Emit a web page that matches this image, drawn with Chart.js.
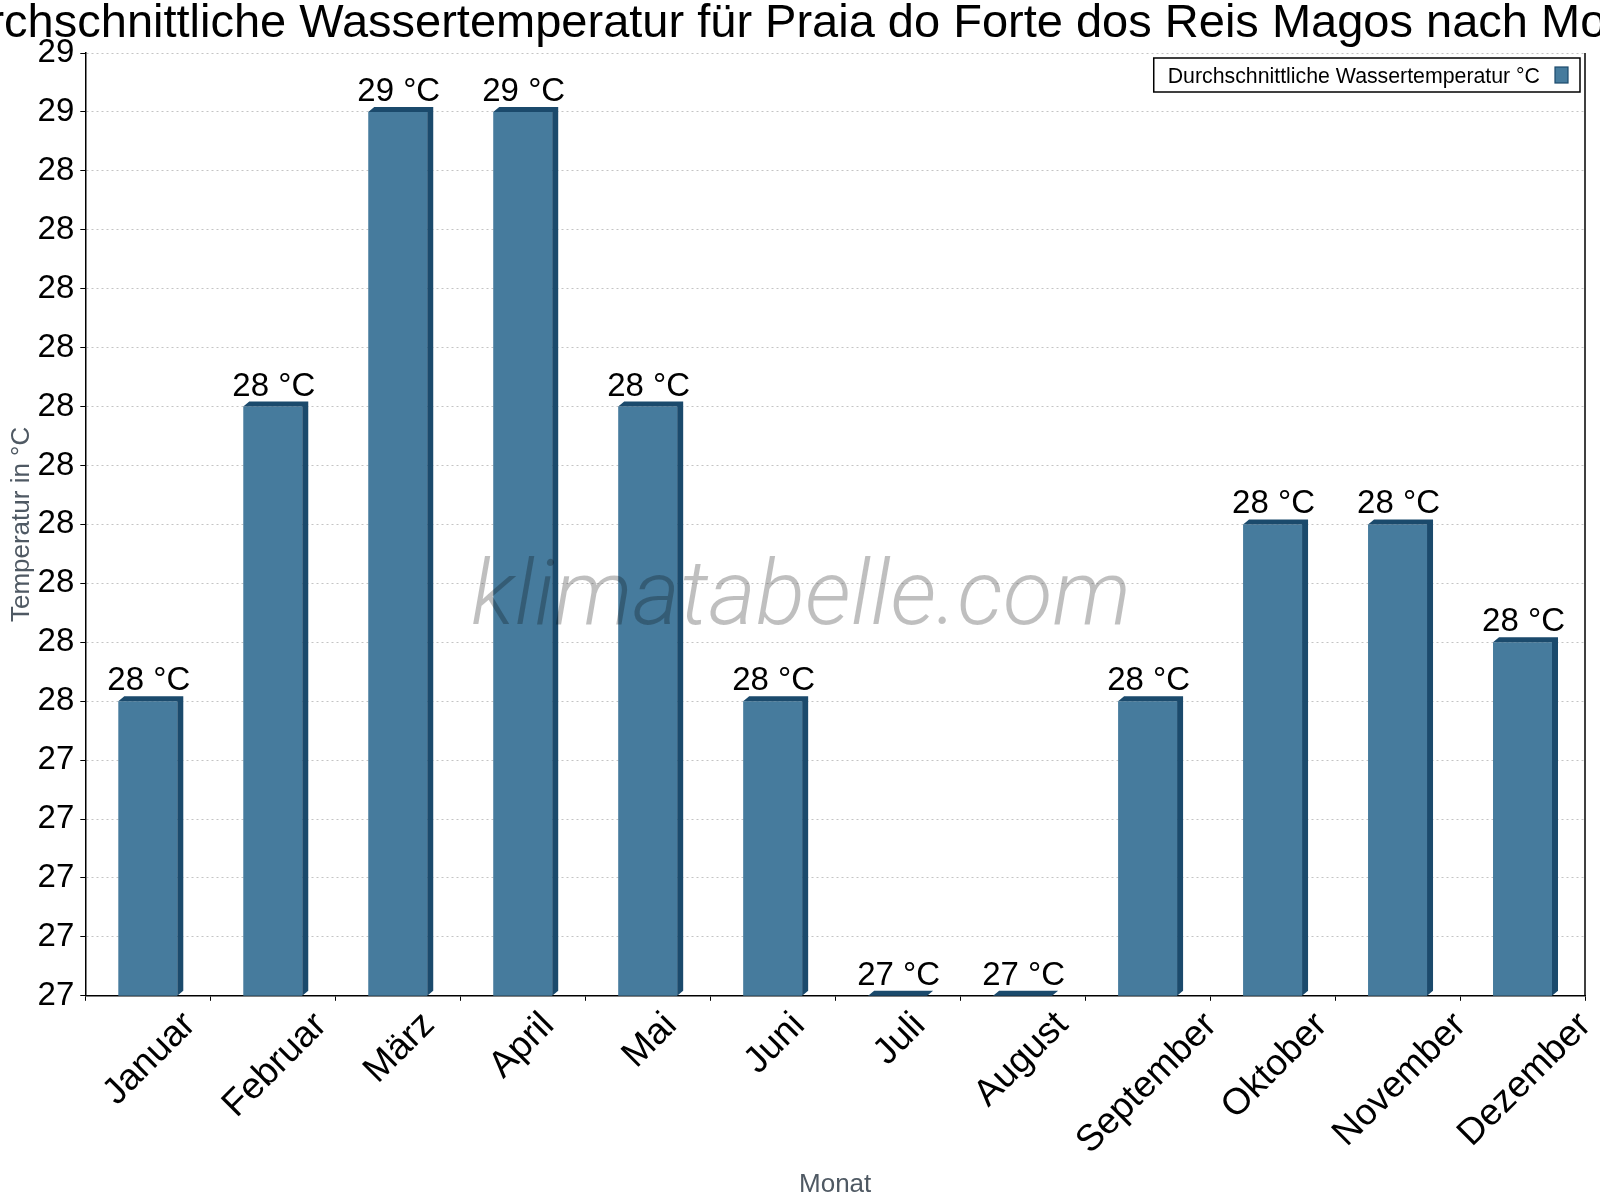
<!DOCTYPE html>
<html>
<head>
<meta charset="utf-8">
<title>Wassertemperatur Praia do Forte dos Reis Magos</title>
<script src="https://cdn.jsdelivr.net/npm/chart.js@4.4.1/dist/chart.umd.min.js"></script>
<style>
  html, body { margin: 0; padding: 0; background: #fff; overflow: hidden; }
</style>
</head>
<body>
<canvas id="c-chart-bar1" width="1600" height="1200"></canvas>
<script>
// chart data
var chartTitle = 'Durchschnittliche Wassertemperatur für Praia do Forte dos Reis Magos nach Monat'
var seriesLabel = 'Durchschnittliche Wassertemperatur °C'
var months = ['Januar', 'Februar', 'März', 'April', 'Mai', 'Juni', 'Juli', 'August', 'September', 'Oktober', 'November', 'Dezember']
var waterTemp = [27.5, 28.0, 28.5, 28.5, 28.0, 27.5, 27.0, 27.0, 27.5, 27.8, 27.8, 27.6]
var yMin = 27
var yMax = 28.6
var yStep = 0.1

var barColor = '#467b9d'
var barDark = '#1b4a6c'
var depthX = 6
var depthY = 5
var fontFamily = '"Liberation Sans", Arial, sans-serif'

Chart.defaults.font.family = fontFamily

// title drawn by hand so the long text is cut at the edges instead of squeezed
var titlePlugin = {
  id: 'titlePlugin',
  afterDraw: function (chart) {
    var ctx = chart.ctx
    ctx.save()
    ctx.font = '47px ' + fontFamily
    ctx.fillStyle = '#000'
    ctx.textAlign = 'center'
    ctx.textBaseline = 'alphabetic'
    ctx.fillText(chartTitle, chart.width / 2, 37)
    ctx.restore()
  }
}

// side and top faces of the bars
var bars3d = {
  id: 'bars3d',
  afterDatasetsDraw: function (chart) {
    var ctx = chart.ctx
    var meta = chart.getDatasetMeta(0)
    var bottom = chart.scales.y.getPixelForValue(yMin)
    ctx.save()
    ctx.fillStyle = barDark
    meta.data.forEach(function (bar) {
      var p = bar.getProps(['x', 'y', 'width'], true)
      var l = p.x - p.width / 2
      var r = p.x + p.width / 2
      ctx.beginPath()
      ctx.moveTo(r, bottom)
      ctx.lineTo(r, p.y)
      ctx.lineTo(l, p.y)
      ctx.lineTo(l + depthX, p.y - depthY)
      ctx.lineTo(r + depthX, p.y - depthY)
      ctx.lineTo(r + depthX, bottom - depthY)
      ctx.closePath()
      ctx.fill()
    })
    ctx.restore()
  }
}

var watermark = {
  id: 'watermark',
  afterDatasetsDraw: function (chart) {
    var ctx = chart.ctx
    ctx.save()
    ctx.font = 'italic 300 91px Roboto, "Open Sans", sans-serif'
    var w = ctx.measureText('klimatabelle.com').width
    ctx.translate(801, 624)
    ctx.scale(660 / w, 1)
    ctx.fillStyle = 'rgba(0, 0, 0, 0.25)'
    ctx.textAlign = 'center'
    ctx.fillText('klimatabelle.com', 0, 0)
    ctx.restore()
  }
}

var valueLabels = {
  id: 'valueLabels',
  afterDatasetsDraw: function (chart) {
    var ctx = chart.ctx
    var meta = chart.getDatasetMeta(0)
    ctx.save()
    ctx.font = '33px ' + fontFamily
    ctx.fillStyle = '#000'
    ctx.textAlign = 'center'
    ctx.textBaseline = 'alphabetic'
    meta.data.forEach(function (bar, i) {
      var p = bar.getProps(['x', 'y'], true)
      ctx.fillText(Math.round(waterTemp[i]) + ' °C', p.x + 1, p.y - depthY - 6)
    })
    ctx.restore()
  }
}

// month labels, rotated 45 degrees and centred under each category
var monthLabels = {
  id: 'monthLabels',
  afterDraw: function (chart) {
    var ctx = chart.ctx
    var xs = chart.scales.x
    var yTop = chart.chartArea.bottom + 12
    ctx.save()
    ctx.font = '37px ' + fontFamily
    ctx.fillStyle = '#000'
    ctx.textAlign = 'left'
    ctx.textBaseline = 'alphabetic'
    months.forEach(function (m, i) {
      var mt = ctx.measureText(m)
      var asc = mt.actualBoundingBoxAscent
      var desc = mt.actualBoundingBoxDescent
      var side = (mt.width + asc + desc) * Math.SQRT1_2
      var cx = xs.getPixelForTick(i)
      var cy = yTop + side / 2
      ctx.save()
      ctx.translate(cx, cy)
      ctx.rotate(-Math.PI / 4)
      ctx.fillText(m, -mt.width / 2, (asc - desc) / 2)
      ctx.restore()
    })
    ctx.restore()
  }
}

var frameAndLegend = {
  id: 'frameAndLegend',
  afterDraw: function (chart) {
    var ctx = chart.ctx
    var ca = chart.chartArea
    ctx.save()
    // right border
    ctx.strokeStyle = '#000'
    ctx.lineWidth = 1.5
    ctx.beginPath()
    ctx.moveTo(ca.right, ca.top)
    ctx.lineTo(ca.right, ca.bottom)
    ctx.stroke()

    // legend box
    ctx.font = '21.3px ' + fontFamily
    var label = chart.data.datasets[0].label
    var tw = ctx.measureText(label).width
    var boxW = 14 + tw + 15 + 13 + 12
    var boxR = ca.right - 5
    var boxL = boxR - boxW
    var boxT = ca.top + 5
    var boxH = 34
    ctx.fillStyle = '#fff'
    ctx.fillRect(boxL, boxT, boxW, boxH)
    ctx.lineWidth = 1.5
    ctx.strokeRect(boxL, boxT, boxW, boxH)
    ctx.fillStyle = '#000'
    ctx.textBaseline = 'alphabetic'
    ctx.fillText(label, boxL + 14, boxT + 24.5)
    ctx.fillStyle = barColor
    ctx.fillRect(boxR - 25, boxT + 9, 13, 16)
    ctx.strokeStyle = barDark
    ctx.lineWidth = 1.2
    ctx.strokeRect(boxR - 25, boxT + 9, 13, 16)
    ctx.restore()
  }
}

var ctx = document.getElementById('c-chart-bar1').getContext('2d')
new Chart(ctx, {
  type: 'bar',
  data: {
    labels: months,
    datasets: [
      {
        label: seriesLabel,
        data: waterTemp,
        backgroundColor: barColor,
        borderWidth: 0,
        barPercentage: 0.472,
        categoryPercentage: 1
      }
    ]
  },
  options: {
    responsive: false,
    animation: false,
    devicePixelRatio: 1,
    layout: {
      padding: { top: 53, right: 15, bottom: 0, left: 0 }
    },
    plugins: {
      legend: { display: false },
      title: { display: false },
      tooltip: { enabled: false }
    },
    scales: {
      x: {
        ticks: { display: false },
        grid: {
          display: true,
          drawOnChartArea: false,
          drawTicks: true,
          tickLength: 5,
          tickColor: '#000',
          offset: true
        },
        border: { display: true, color: '#000', width: 1.5 },
        title: {
          display: true,
          text: 'Monat',
          color: '#4f5963',
          font: { size: 26 },
          padding: { top: 168, bottom: 0 }
        }
      },
      y: {
        min: yMin,
        max: yMax,
        ticks: {
          stepSize: yStep,
          color: '#000',
          font: { size: 33 },
          padding: 6,
          callback: function (v) { return Math.round(v) }
        },
        grid: {
          color: '#c4c4c4',
          lineWidth: 1,
          tickColor: '#000',
          tickLength: 5,
          drawTicks: true
        },
        border: { display: true, color: '#000', width: 1.5, dash: [2, 3] },
        title: {
          display: true,
          text: 'Temperatur in °C',
          color: '#4f5963',
          font: { size: 26, lineHeight: 1 },
          padding: { top: 8.4, bottom: -2.8 }
        }
      }
    }
  },
  plugins: [bars3d, watermark, valueLabels, monthLabels, frameAndLegend, titlePlugin]
})
</script>
</body>
</html>
